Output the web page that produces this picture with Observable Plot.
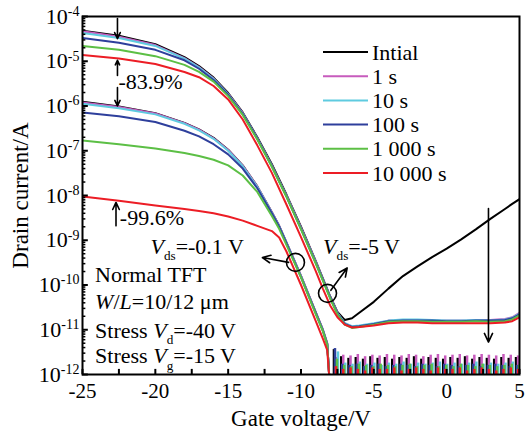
<!DOCTYPE html>
<html><head><meta charset="utf-8">
<script src="https://cdn.jsdelivr.net/npm/d3@7"></script>
<script src="https://cdn.jsdelivr.net/npm/@observablehq/plot@0.6"></script>
<style>
body{margin:0;background:#fff;}
svg, svg text, svg tspan{font-family:"Liberation Serif", "DejaVu Serif", serif !important;}
</style></head><body><div id="chart"></div>
<script>
// ---- series ----
const seriesNames = ["Intial", "1 s", "10 s", "100 s", "1 000 s", "10 000 s"];
const seriesColors = ["#000000", "#c75bbd", "#5fcbe0", "#2e3f9c", "#5cbf45", "#ec1d25"];

// Vds = -5 V transfer curves
const vHigh = [-25,-22.5,-20,-18,-17,-16,-15,-14,-13,-12,-11,-10,-9,-8.5,-8,-7.5,-7,-6.5,-6,-5,-4,-3,-2,-1,0,1,2,3,4,4.5,5];
const highInitial = [4.8e-5,3.7e-5,2.4e-5,1.23e-5,7.8e-6,4.3e-6,1.95e-6,7.2e-7,2.0e-7,5.0e-8,1.05e-8,2.0e-9,3.5e-10,1.4e-10,5.6e-11,2.5e-11,1.66e-11,1.8e-11,2.4e-11,4.2e-11,8.3e-11,1.58e-10,2.6e-10,4.2e-10,6.5e-10,1.05e-9,1.75e-9,3.0e-9,5.0e-9,6.5e-9,8.3e-9];
const high1s = [4.7e-5,3.55e-5,2.3e-5,1.17e-5,7.4e-6,4.1e-6,1.86e-6,6.9e-7,1.9e-7,4.7e-8,1.0e-8,1.9e-9,3.4e-10,1.35e-10,5.4e-11,2.4e-11,1.4e-11,1.17e-11,1.2e-11,1.35e-11,1.6e-11,1.65e-11,1.65e-11,1.6e-11,1.6e-11,1.6e-11,1.6e-11,1.65e-11,1.75e-11,1.9e-11,2.4e-11];
const high10s = [4.3e-5,3.3e-5,2.2e-5,1.14e-5,7.2e-6,4.0e-6,1.83e-6,6.8e-7,1.88e-7,4.6e-8,9.8e-9,1.85e-9,3.3e-10,1.32e-10,5.3e-11,2.35e-11,1.4e-11,1.2e-11,1.25e-11,1.4e-11,1.6e-11,1.7e-11,1.7e-11,1.65e-11,1.6e-11,1.6e-11,1.65e-11,1.6e-11,1.7e-11,1.85e-11,2.3e-11];
const high100s = [3.3e-5,2.6e-5,1.8e-5,1.05e-5,6.8e-6,3.8e-6,1.78e-6,6.6e-7,1.85e-7,4.5e-8,9.6e-9,1.8e-9,3.2e-10,1.3e-10,5.2e-11,2.3e-11,1.35e-11,1.15e-11,1.2e-11,1.35e-11,1.55e-11,1.6e-11,1.6e-11,1.6e-11,1.55e-11,1.55e-11,1.6e-11,1.6e-11,1.65e-11,1.8e-11,2.2e-11];
const high1000s = [2.2e-5,1.8e-5,1.3e-5,8.3e-6,5.8e-6,3.5e-6,1.66e-6,6.3e-7,1.78e-7,4.4e-8,9.4e-9,1.75e-9,3.1e-10,1.25e-10,5.0e-11,2.2e-11,1.3e-11,1.1e-11,1.15e-11,1.3e-11,1.5e-11,1.55e-11,1.55e-11,1.5e-11,1.5e-11,1.5e-11,1.55e-11,1.5e-11,1.55e-11,1.7e-11,2.1e-11];
const high10000s = [1.38e-5,1.15e-5,8.7e-6,5.75e-6,4.4e-6,2.8e-6,1.4e-6,5.0e-7,1.32e-7,3.2e-8,6.3e-9,1.17e-9,2.1e-10,8.3e-11,3.5e-11,1.9e-11,1.3e-11,1.12e-11,1.15e-11,1.25e-11,1.4e-11,1.45e-11,1.45e-11,1.4e-11,1.4e-11,1.4e-11,1.4e-11,1.4e-11,1.45e-11,1.55e-11,1.9e-11];

// Vds = -0.1 V transfer curves
const vLow = [-25,-22.5,-20,-18,-17,-16,-15,-14,-13,-12,-11.5,-11,-10,-9,-8.5,-8.2,-8.05];
const lowInitial = [1.25e-6,9.8e-7,6.9e-7,4.2e-7,3.0e-7,1.95e-7,1.05e-7,4.7e-8,1.6e-8,4.2e-9,2.1e-9,9.0e-10,1.6e-10,2.5e-11,1.0e-11,5.0e-12,8e-13];
const low1s = [1.2e-6,9.5e-7,6.8e-7,4.15e-7,2.95e-7,1.9e-7,1.04e-7,4.65e-8,1.6e-8,4.2e-9,2.1e-9,9.0e-10,1.6e-10,2.5e-11,1.0e-11,5.0e-12,8e-13];
const low10s = [1.12e-6,8.9e-7,6.5e-7,4.0e-7,2.85e-7,1.85e-7,1.0e-7,4.5e-8,1.55e-8,4.1e-9,2.05e-9,8.8e-10,1.55e-10,2.4e-11,9.8e-12,4.8e-12,8e-13];
const low100s = [7.2e-7,5.9e-7,4.4e-7,2.8e-7,2.1e-7,1.4e-7,8.3e-8,4.0e-8,1.45e-8,4.0e-9,2.0e-9,8.6e-10,1.5e-10,2.4e-11,9.6e-12,4.7e-12,8e-13];
const low1000s = [1.7e-7,1.4e-7,1.12e-7,8.9e-8,7.6e-8,6.3e-8,4.7e-8,2.8e-8,1.2e-8,3.5e-9,1.8e-9,7.9e-10,1.48e-10,2.3e-11,9.3e-12,4.6e-12,8e-13];
const low10000s = [9.5e-9,7.6e-9,6.0e-9,5.0e-9,4.5e-9,4.0e-9,3.4e-9,2.75e-9,2.1e-9,1.6e-9,1.15e-9,5.6e-10,1.0e-10,1.6e-11,6.3e-12,3.5e-12,8e-13];

// noise floor of the Vds = -0.1 V curves (peak currents, in units of 1e-12 A)
const noiseV = [-7.6,-7.1,-6.6,-6.1,-5.6,-5.1,-4.6,-4.1,-3.6,-3.1,-2.6,-2.1,-1.6,-1.1,-0.6,-0.1,0.4,0.9,1.4,1.9,2.4,2.9,3.4,3.9,4.4,4.9];
const noiseInitial = [3.6,2.5,2.3,2.4,2.2,2.5,2.3,2.4,2.2,2.4,2.3,2.5,2.2,2.4,2.3,2.2,2.4,2.3,2.5,2.2,2.4,2.3,2.2,2.4,2.3,2.4];
const noise1s = [2.4,2.7,2.6,2.8,2.5,2.7,2.6,2.8,2.7,2.6,2.8,2.7,2.5,2.7,2.8,2.6,2.7,2.8,2.6,2.7,2.8,2.7,2.6,2.8,2.7,2.6];
const noise10s = [3.2,1.8,1.7,1.9,1.7,1.8,1.6,1.8,1.7,1.9,1.7,1.8,1.7,1.8,1.9,1.7,1.8,1.7,1.8,1.9,1.7,1.8,1.7,1.8,1.9,1.7];
const noise100s = [3.8,1.7,1.6,1.7,1.5,1.6,1.7,1.5,1.6,1.7,1.6,1.5,1.7,1.6,1.5,1.7,1.6,1.5,1.6,1.7,1.5,1.6,1.7,1.6,1.5,1.6];
const noise1000s = [2.2,1.6,1.5,1.7,1.6,1.5,1.7,1.6,1.5,1.6,1.7,1.5,1.6,1.7,1.5,1.6,1.5,1.7,1.6,1.5,1.7,1.6,1.5,1.6,1.7,1.6];
const noise10000s = [1.5,1.3,1.4,1.3,1.2,1.4,1.3,1.3,1.4,1.2,1.3,1.4,1.3,1.2,1.4,1.3,1.3,1.4,1.2,1.3,1.4,1.3,1.2,1.3,1.4,1.3];
const noiseShift = [-2, 0, 2, -1, 1, 0]; // px offset of each series' spikes

// ---- axes ----
const xTicks = [-25,-20,-15,-10,-5,0,5];
const xMinorTicks = [-25,-22.5,-20,-17.5,-15,-12.5,-10,-7.5,-5,-2.5,0,2.5,5];
const yTicks = [1e-12,1e-11,1e-10,1e-9,1e-8,1e-7,1e-6,1e-5,1e-4];
const yMinorTicks = [];
for (let e = -12; e < -4; e++) for (let m = 2; m <= 9; m++) yMinorTicks.push(m * Math.pow(10, e));
const xTitle = "Gate voltage/V";
const yTitle = "Drain current/A";

// ---- annotations (data units) ----
const arrowsData = [
  {x1: -22.6, y1: 9.0e-5, x2: -22.6, y2: 3.2e-5},
  {x1: -22.6, y1: 4.8e-6, x2: -22.6, y2: 1.05e-5},
  {x1: -22.6, y1: 2.6e-6, x2: -22.6, y2: 1.0e-6},
  {x1: -22.7, y1: 2.1e-9, x2: -22.7, y2: 7.0e-9},
  {x1: -10.85, y1: 3.2e-10, x2: -12.65, y2: 4.1e-10},
  {x1: -7.95, y1: 7.6e-11, x2: -6.83, y2: 2.4e-10},
  {x1: 2.87, y1: 5.1e-9, x2: 2.87, y2: 5.3e-12}
];
const circlesData = [{x: -10.38, y: 3.2e-10}, {x: -8.18, y: 6.5e-11}];
const notes = [
  {x: -22.5, y: 3.35e-6, parts: ["-83.9%"]},
  {x: -22.4, y: 3.1e-9, parts: ["-99.6%"]},
  {x: -20.3, y: 7.2e-10, parts: [{i: "V"}, {sub: "ds"}, "=-0.1 V"]},
  {x: -8.45, y: 7.2e-10, parts: [{i: "V"}, {sub: "ds"}, "=-5 V"]},
  {x: -24.1, y: 1.7e-10, parts: ["Normal TFT"]},
  {x: -24.1, y: 4.1e-11, parts: [{i: "W"}, "/", {i: "L"}, "=10/12 μm"]},
  {x: -24.1, y: 9.6e-12, parts: ["Stress ", {i: "V"}, {sub: "d"}, "=-40 V"]},
  {x: -24.1, y: 2.6e-12, parts: ["Stress ", {i: "V"}, {sub: "g"}, "=-15 V"]}
];

// ---- build tables ----
const highSets = [highInitial, high1s, high10s, high100s, high1000s, high10000s];
const lowSets = [lowInitial, low1s, low10s, low100s, low1000s, low10000s];
const noiseSets = [noiseInitial, noise1s, noise10s, noise100s, noise1000s, noise10000s];

const lineMarks = [];
const noiseMarks = [];
seriesNames.forEach((name, k) => {
  const hi = vHigh.map((v, j) => ({v, i: highSets[k][j]}));
  const lo = vLow.map((v, j) => ({v, i: lowSets[k][j]}));
  lineMarks.push(Plot.line(hi, {x: "v", y: "i", stroke: seriesColors[k], strokeWidth: 2, clip: true}));
  lineMarks.push(Plot.line(lo, {x: "v", y: "i", stroke: seriesColors[k], strokeWidth: 2, clip: true}));
  const nz = noiseV.map((v, j) => ({v, peak: noiseSets[k][j] * 1e-12}));
  noiseMarks.push(Plot.ruleX(nz, {x: "v", y1: 1e-12, y2: "peak", stroke: seriesColors[k], strokeWidth: 2.5, dx: noiseShift[k], clip: true}));
});

const serif = "'Liberation Serif','DejaVu Serif',serif";
const plot = Plot.plot({
  width: 525, height: 436,
  marginLeft: 82, marginRight: 6, marginTop: 16, marginBottom: 62,
  style: {fontFamily: serif, fontSize: "21px", color: "#000", background: "#fff"},
  x: {domain: [-25, 5]},
  y: {type: "log", domain: [1e-12, 1e-4]},
  marks: [
    Plot.axisX(xTicks, {tickSize: 0, tickPadding: 9, tickFormat: d => String(d), label: null, fontSize: 21}),
    Plot.axisY(yTicks, {tickSize: 0, tickPadding: 3, tickFormat: d => String(Math.round(Math.log10(d))), label: null, fontSize: 22}),
    Plot.text([xTitle], {frameAnchor: "bottom", textAnchor: "middle", dy: 51, fontSize: 23}),
    Plot.text([yTitle], {frameAnchor: "left", textAnchor: "middle", dx: -62, rotate: -90, fontSize: 23}),
    ...noiseMarks,
    ...lineMarks,
    Plot.ruleY(yTicks, {x1: -25, x2: -24.6, stroke: "#000", strokeWidth: 2}),
    Plot.ruleY(yMinorTicks, {x1: -25, x2: -24.77, stroke: "#000", strokeWidth: 1.5}),
    Plot.ruleX(xMinorTicks, {y1: 1e-12, y2: 1.3e-12, stroke: "#000", strokeWidth: 2}),
    Plot.arrow(arrowsData, {x1: "x1", y1: "y1", x2: "x2", y2: "y2", stroke: "#000", strokeWidth: 1.6, headLength: 9, headAngle: 50}),
    Plot.dot(circlesData, {x: "x", y: "y", r: 9, stroke: "#000", fill: "none", strokeWidth: 1.6}),
    Plot.frame({stroke: "#000", strokeWidth: 2})
  ]
});
document.getElementById("chart").append(plot);

const svg = d3.select(plot);
// superscript exponents on the y tick labels
svg.selectAll('g[aria-label="y-axis tick label"] text').each(function () {
  const e = this.textContent;
  const t = d3.select(this);
  t.text("");
  t.append("tspan").text("10");
  t.append("tspan").attr("dy", "-0.55em").attr("font-size", "14px").text(e);
});

const xs = plot.scale("x"), ys = plot.scale("y");
const noteSize = 22;
const g = svg.append("g").attr("font-size", noteSize).attr("fill", "#000").attr("text-anchor", "start").attr("font-family", serif);
function richText(px, py, parts, size) {
  const t = g.append("text").attr("x", px).attr("y", py + size * 0.34).attr("font-size", size).attr("text-anchor", "start");
  let shift = 0;
  for (const p of parts) {
    const s = typeof p === "string" ? {t: p} : p;
    const ts = t.append("tspan");
    if (s.sub) {
      ts.text(s.sub).attr("font-size", size * 0.6).attr("dy", size * 0.3 - shift);
      shift = size * 0.3;
    } else {
      ts.text(s.i || s.t);
      if (shift) { ts.attr("dy", -shift); shift = 0; }
      if (s.i) ts.attr("font-style", "italic");
    }
  }
}
notes.forEach(n => richText(xs.apply(n.x), ys.apply(n.y), n.parts, noteSize));

// legend
const lg = svg.append("g").attr("text-anchor", "start").attr("font-family", serif);
seriesNames.forEach((name, k) => {
  const cy = 52 + k * 24.2;
  lg.append("line").attr("x1", 323).attr("x2", 368).attr("y1", cy).attr("y2", cy)
    .attr("stroke", seriesColors[k]).attr("stroke-width", 2);
  lg.append("text").attr("x", 372).attr("y", cy + 7.5).attr("font-size", 22).attr("text-anchor", "start").text(name);
});
</script></body></html>
